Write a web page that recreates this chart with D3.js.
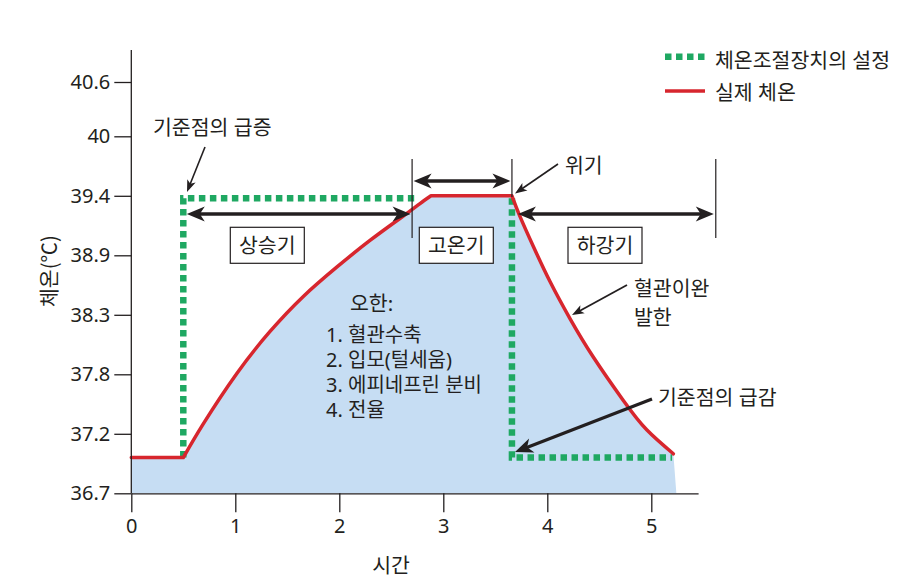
<!DOCTYPE html>
<html><head><meta charset="utf-8">
<script src="https://cdn.jsdelivr.net/npm/d3@7"></script>
<style>
body{margin:0;background:#fff;}
svg{display:block;font-family:"Noto Sans","Noto Sans CJK KR",sans-serif;}
</style></head><body>
<svg id="chart" width="902" height="588"></svg>
<script>
// ---------- data ----------
const xTickValues = [0, 1, 2, 3, 4, 5];
const yTickValues = [36.7, 37.2, 37.8, 38.3, 38.9, 39.4, 40, 40.6];
const yTickLabels = ["36.7", "37.2", "37.8", "38.3", "38.9", "39.4", "40", "40.6"];

// actual body temperature (실제 체온)
const realTime = [0, 0.5, 0.692, 1.013, 1.334, 1.654, 1.975, 2.295, 2.615, 2.776, 2.882,
                  3.66, 3.738, 3.866, 4.026, 4.218, 4.442, 4.731, 4.956, 5.212];
const realTemp = [37.0, 37.0, 37.3, 37.805, 38.16, 38.485, 38.78, 39.025, 39.23, 39.335, 39.4,
                  39.4, 39.225, 38.974, 38.635, 38.268, 37.945, 37.536, 37.24, 37.032];
const realCorners = [1, 10, 11];

// thermostat set point (체온조절장치의 설정); null = hidden under the actual curve
const setTime = [0.5, 0.5, 2.72, null, 3.66, 3.66, 5.2];
const setTemp = [37.0, 39.38, 39.38, null, 39.38, 37.0, 37.0];

const legendLabels = ["체온조절장치의 설정", "실제 체온"];
const phaseLabels = ["상승기", "고온기", "하강기"];
const phaseBounds = [0.5, 2.7, 3.66, 5.62];
const chillsTitle = "오한:";
const chillsItems = ["1. 혈관수축", "2. 입모(털세움)", "3. 에피네프린 분비", "4. 전율"];
const xTitle = "시간";
const yTitle = "체온(℃)";

// ---------- layout ----------
const ink = "#231f20", green = "#1fa862", red = "#d7262e", blue = "#c6ddf3";
const fs = 20.5;
const svg = d3.select("#chart");
const x0 = 131.3, pxPerUnit = 104, yBottom = 493.3, yStep = 59.5;
const x = d3.scaleLinear().domain([0, 5.45]).range([x0, x0 + 5.45 * pxPerUnit]);
const yRange = yTickValues.map((d, i) => i < 7 ? yBottom - i * yStep : yBottom - 6 * yStep - 54.3);
const y = d3.scaleLinear().domain(yTickValues).range(yRange);

// ---------- actual temperature path (segments joined at corners) ----------
const realPts = realTime.map((t, i) => ({t, v: realTemp[i]}));
const seg = d3.line().x(d => x(d.t)).y(d => y(d.v)).curve(d3.curveNatural);
const cuts = [0, ...realCorners, realPts.length - 1];
let realPath = "";
for (let k = 0; k < cuts.length - 1; k++) {
  const p = seg(realPts.slice(cuts[k], cuts[k + 1] + 1));
  realPath += k === 0 ? p : p.replace(/^M[^A-Za-z]*/, "");
}
const last = realPts[realPts.length - 1];
const areaPath = realPath + `L${x(last.t) + 3},${y(36.7)}L${x(0)},${y(36.7)}Z`;

svg.append("path").attr("d", areaPath).attr("fill", blue);

// set point
const setPts = setTime.map((t, i) => ({t, v: setTemp[i]}));
svg.append("path")
  .attr("d", d3.line().defined(d => d.v != null).x(d => x(d.t)).y(d => y(d.v))(setPts))
  .attr("fill", "none").attr("stroke", green).attr("stroke-width", 6.5)
  .attr("stroke-dasharray", "6.5,4.5");

svg.append("path").attr("d", realPath).attr("fill", "none")
  .attr("stroke", red).attr("stroke-width", 3.5).attr("stroke-linejoin", "round").attr("stroke-linecap", "round");

// ---------- axes ----------
const gx = svg.append("g").attr("transform", `translate(0,${yBottom})`)
  .call(d3.axisBottom(x).tickValues(xTickValues).tickSize(19).tickPadding(7).tickSizeOuter(0).tickFormat(d3.format("d")));
const gy = svg.append("g").attr("transform", `translate(${x0},0)`)
  .call(d3.axisLeft(y).tickValues(yTickValues).tickFormat((d, i) => yTickLabels[i]).tickSize(17).tickPadding(4));
gy.select(".domain").remove();
svg.append("line").attr("x1", x0).attr("x2", x0).attr("y1", yBottom).attr("y2", 50).attr("stroke", ink).attr("stroke-width", 1.3);
[gx, gy].forEach(g => {
  g.selectAll("path,line").attr("stroke", ink).attr("stroke-width", 1.3);
  g.selectAll("text").attr("fill", ink).attr("font-size", 20).attr("font-family", "'Noto Sans','Noto Sans CJK KR',sans-serif");
});

svg.append("text").attr("x", 391).attr("y", 573).attr("text-anchor", "middle")
  .attr("font-size", fs).attr("fill", ink).text(xTitle);
svg.append("text").attr("transform", "translate(57,271) rotate(-90)").attr("text-anchor", "middle")
  .attr("font-family", "'Noto Sans CJK KR',sans-serif")
  .attr("font-size", fs).attr("fill", ink).text(yTitle);

// ---------- legend ----------
svg.append("line").attr("x1", 665).attr("x2", 705).attr("y1", 56.7).attr("y2", 56.7)
  .attr("stroke", green).attr("stroke-width", 6.5).attr("stroke-dasharray", "6.5,4.5");
svg.append("line").attr("x1", 665).attr("x2", 705).attr("y1", 91).attr("y2", 91)
  .attr("stroke", red).attr("stroke-width", 3.5);
svg.append("text").attr("x", 715).attr("y", 67.5).attr("font-size", fs).attr("fill", ink).text(legendLabels[0]);
svg.append("text").attr("x", 715).attr("y", 99.5).attr("font-size", fs).attr("fill", ink).text(legendLabels[1]);

// ---------- annotations ----------
const ann = svg.append("g");
function head(xt, yt, ang, len, wid, notch) {
  const c = Math.cos(ang), s = Math.sin(ang);
  const pts = [[0, 0], [-len, -wid / 2], [-len + notch, 0], [-len, wid / 2]]
    .map(([a, b]) => [xt + a * c - b * s, yt + a * s + b * c]);
  ann.append("path").attr("d", "M" + pts.join("L") + "Z").attr("fill", ink);
}
function arrow(x1, y1, x2, y2, w, big, both) {
  const len = big ? 18 : 12, wid = big ? 15 : 9, notch = big ? 5 : 3;
  const ang = Math.atan2(y2 - y1, x2 - x1), d = len - notch - 1;
  const c = Math.cos(ang), s = Math.sin(ang);
  const sx = both ? x1 + d * c : x1, sy = both ? y1 + d * s : y1;
  ann.append("line").attr("x1", sx).attr("y1", sy).attr("x2", x2 - d * c).attr("y2", y2 - d * s)
    .attr("stroke", ink).attr("stroke-width", w);
  head(x2, y2, ang, len, wid, notch);
  if (both) head(x1, y1, ang + Math.PI, len, wid, notch);
}
function vline(xv, y1, y2) {
  ann.append("line").attr("x1", xv).attr("x2", xv).attr("y1", y1).attr("y2", y2)
    .attr("stroke", ink).attr("stroke-width", 1.2);
}
function label(tx, ty, t, anchor, size) {
  ann.append("text").attr("x", tx).attr("y", ty).attr("font-size", size || fs).attr("fill", ink)
    .attr("text-anchor", anchor || "start").text(t);
}

// phase markers
vline(x(phaseBounds[1]), 159, 238);
vline(x(phaseBounds[2]), 159, 197);
vline(x(phaseBounds[3]), 159, 238);
arrow(x(phaseBounds[0]) + 3.5, 214, x(phaseBounds[1]) - 1.5, 214, 3.3, true, true);
arrow(x(phaseBounds[1]) + 1.5, 181, x(phaseBounds[2]) - 1.5, 181, 3.3, true, true);
arrow(x(phaseBounds[2]) + 6, 214, x(phaseBounds[3]) - 2, 214, 3.3, true, true);

const boxCx = [267.3, 456.3, 605];
phaseLabels.forEach((p, i) => {
  ann.append("rect").attr("x", boxCx[i] - 37).attr("y", 227.3).attr("width", 74).attr("height", 36)
    .attr("fill", "#fff").attr("stroke", ink).attr("stroke-width", 1.2);
  label(boxCx[i], 252.5, p, "middle");
});

label(153, 135, "기준점의 급증");
arrow(205, 147, 187, 192, 1.6, false, false);
label(565, 172.5, "위기");
arrow(558, 164, 515, 193.5, 1.6, false, false);
label(634, 295.5, "혈관이완");
label(634, 325, "발한");
arrow(627, 285, 572, 315, 1.8, false, false);
label(658, 404.5, "기준점의 급감");
arrow(652, 399, 515, 452, 3.3, true, false);

label(350, 311, chillsTitle);
chillsItems.forEach((t, i) => label(326, 342 + i * 25, t, "start", 20));
</script>
</body></html>
